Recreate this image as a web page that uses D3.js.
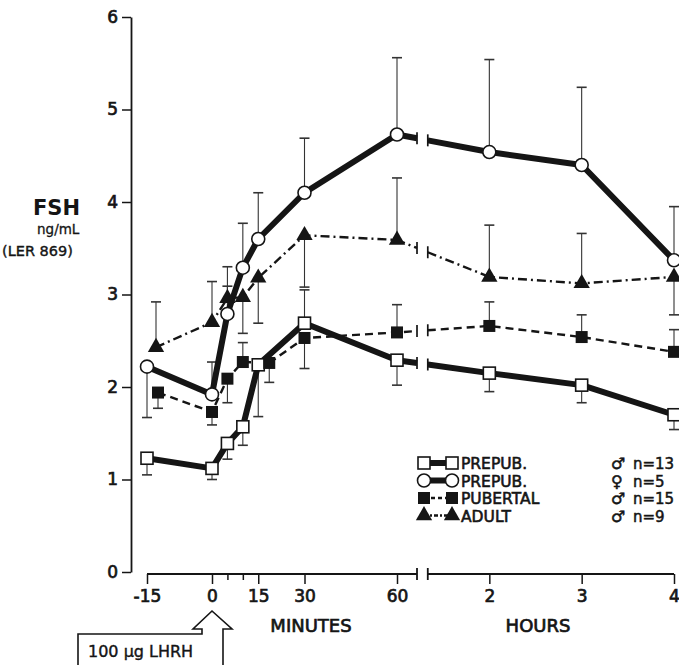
<!DOCTYPE html>
<html><head><meta charset="utf-8">
<script src="https://cdn.jsdelivr.net/npm/d3@7"></script>
<style>body{margin:0;background:#fff}</style>
</head><body><svg id="c" width="679" height="665"></svg>
<script>
// ---- data ----
const minutes = [-15, 0, 5, 10, 15, 30, 60, 120, 180, 240];
const prepubMale      = [1.23, 1.12, 1.39, 1.57, 2.24, 2.69, 2.29, 2.15, 2.02, 1.70];
const prepubMaleErr   = [-0.18, -0.12, -0.17, -0.20, -0.56, 0.36, -0.27, -0.20, -0.19, -0.16];
const prepubFemale    = [2.22, 1.92, 2.79, 3.29, 3.60, 4.10, 4.73, 4.54, 4.40, 3.37];
const prepubFemaleErr = [-0.55, 0.35, 0.30, 0.48, 0.50, 0.59, 0.83, 1.00, 0.84, 0.58];
const pubertal        = [1.94, 1.73, 2.09, 2.27, 2.26, 2.53, 2.59, 2.66, 2.54, 2.38];
const pubertalErr     = [-0.17, -0.14, -0.26, 0.21, -0.21, -0.33, 0.30, 0.26, 0.24, 0.24];
const adult           = [2.43, 2.70, 2.96, 2.97, 3.18, 3.64, 3.59, 3.19, 3.12, 3.19];
const adultErr        = [0.49, 0.44, 0.34, -0.39, -0.49, -0.56, 0.67, 0.56, 0.54, -0.41];

const yTicks = [0, 1, 2, 3, 4, 5, 6];
const xTickValues = [-15, 0, 5, 10, 15, 30, 60, 120, 180, 240];
const xTickLabels = ["-15", "0", "", "", "15", "30", "60", "2", "3", "4"];
const legendLabels = ["PREPUB.", "PREPUB.", "PUBERTAL", "ADULT"];
const legendSex = ["\u2642", "\u2640", "\u2642", "\u2642"];
const legendN = ["n=13", "n=5", "n=15", "n=9"];
const breakDomain = [73, 80];

// ---- scales ----
const x = d3.scaleLinear().domain([-15, 0, 60, 240]).range([147, 212, 397, 674]);
const y = d3.scaleLinear().domain([0, 6]).range([572, 17]);
const ink = "#151515";
const FONT = "DejaVu Sans";

const series = [
  {key: "pm", values: prepubMale, err: prepubMaleErr, marker: "openSquare", width: 6, dash: null},
  {key: "pf", values: prepubFemale, err: prepubFemaleErr, marker: "openCircle", width: 6, dash: null},
  {key: "pu", values: pubertal, err: pubertalErr, marker: "filledSquare", width: 2.4, dash: "8,5"},
  {key: "ad", values: adult, err: adultErr, marker: "triangle", width: 2.4, dash: "9,4,2,4"}
];
// small horizontal offsets used in the original to separate overlapping symbols
const nudge = {ad: {"-15": 9}, pu: {"-15": 11, "15": 11}};
const px = (s, m) => x(m) + ((nudge[s.key] || {})[m] || 0);

const svg = d3.select("#c");
function label(sel, size, weight, heavy) {
  return sel.attr("font-family", FONT).attr("font-size", size).attr("font-weight", weight || "normal")
    .attr("fill", ink).attr("stroke", heavy ? ink : "none").attr("stroke-width", heavy || 0);
}

// ---- y axis ----
const yAxis = svg.append("g").attr("transform", "translate(131,0)")
  .call(d3.axisLeft(y).tickValues(yTicks).tickSize(9).tickSizeOuter(0).tickPadding(4).tickFormat(d3.format("d")));
yAxis.select(".domain").attr("stroke", ink).attr("stroke-width", 1.8);
yAxis.selectAll(".tick line").attr("stroke", ink).attr("stroke-width", 1.5);
label(yAxis.selectAll(".tick text"), 17, "normal", 0.7);

// ---- x axis ----
const xAxis = svg.append("g").attr("transform", "translate(0,574)")
  .call(d3.axisBottom(x).tickValues(xTickValues).tickSize(10).tickSizeOuter(0).tickPadding(6)
    .tickFormat((d, i) => xTickLabels[i]));
xAxis.select(".domain").remove();
xAxis.selectAll(".tick line").attr("stroke", ink).attr("stroke-width", 1.5)
  .attr("y2", (d, i) => xTickLabels[i] === "" ? 6 : 10);
label(xAxis.selectAll(".tick text"), 17, "normal", 0.7);
const axLine = svg.append("g").attr("stroke", ink).attr("stroke-width", 1.8).attr("fill", "none");
axLine.append("line").attr("x1", x(-15)).attr("x2", x(breakDomain[0])).attr("y1", 574).attr("y2", 574);
axLine.append("line").attr("x1", x(breakDomain[1])).attr("x2", x(240)).attr("y1", 574).attr("y2", 574);
breakDomain.forEach(b => axLine.append("line").attr("x1", x(b)).attr("x2", x(b)).attr("y1", 568).attr("y2", 580));

label(svg.append("text"), 18, "normal", 0.7).attr("x", 311).attr("y", 632).attr("text-anchor", "middle").text("MINUTES");
label(svg.append("text"), 18, "normal", 0.7).attr("x", 538).attr("y", 632).attr("text-anchor", "middle").text("HOURS");

// y label
label(svg.append("text"), 21, "bold").attr("x", 33).attr("y", 215).text("FSH");
label(svg.append("text"), 13.5, "normal", 0.3).attr("x", 37).attr("y", 234).text("ng/mL");
label(svg.append("text"), 14.5, "normal", 0.4).attr("x", 2).attr("y", 256).text("(LER 869)");

// ---- error bars ----
const eb = svg.append("g").attr("stroke", "#333").attr("stroke-width", 1.1);
series.forEach(s => {
  s.values.forEach((v, i) => {
    const xx = px(s, minutes[i]);
    const yEnd = y(v + s.err[i]);
    eb.append("line").attr("x1", xx).attr("x2", xx).attr("y1", y(v)).attr("y2", yEnd);
    eb.append("line").attr("x1", xx - 5).attr("x2", xx + 5).attr("y1", yEnd).attr("y2", yEnd).attr("stroke-width", 1.6);
  });
});

// ---- lines with axis break ----
const line = d3.line().x(d => d[0]).y(d => d[1]);
const lg = svg.append("g").attr("fill", "none").attr("stroke", ink).attr("stroke-linejoin", "round");
series.forEach(s => {
  const i60 = minutes.indexOf(60), i120 = minutes.indexOf(120);
  const interp = m => s.values[i60] + (s.values[i120] - s.values[i60]) * (m - 60) / 60;
  const seg1 = minutes.map((m, i) => [m, i]).filter(d => d[0] <= 60).map(d => [px(s, d[0]), y(s.values[d[1]])]);
  seg1.push([x(breakDomain[0]), y(interp(breakDomain[0]))]);
  const seg2 = [[x(breakDomain[1]), y(interp(breakDomain[1]))]]
    .concat(minutes.map((m, i) => [m, i]).filter(d => d[0] >= 120).map(d => [px(s, d[0]), y(s.values[d[1]])]));
  [seg1, seg2].forEach(seg => {
    const p = lg.append("path").attr("d", line(seg)).attr("stroke-width", s.width);
    if (s.dash) p.attr("stroke-dasharray", s.dash);
  });
  breakDomain.forEach(b => {
    const yy = y(interp(b));
    lg.append("line").attr("x1", x(b)).attr("x2", x(b)).attr("y1", yy - 6).attr("y2", yy + 6).attr("stroke-width", 1.7);
  });
});

// ---- markers ----
function drawMarker(g, type, cx, cy) {
  if (type === "openSquare") g.append("rect").attr("x", cx - 6).attr("y", cy - 6).attr("width", 12).attr("height", 12)
    .attr("fill", "#fff").attr("stroke", ink).attr("stroke-width", 1.6);
  else if (type === "filledSquare") g.append("rect").attr("x", cx - 6).attr("y", cy - 6).attr("width", 12).attr("height", 12)
    .attr("fill", ink);
  else if (type === "openCircle") g.append("circle").attr("cx", cx).attr("cy", cy).attr("r", 6.5)
    .attr("fill", "#fff").attr("stroke", ink).attr("stroke-width", 1.6);
  else if (type === "triangle") g.append("path").attr("d", d3.symbol(d3.symbolTriangle, 115)())
    .attr("transform", `translate(${cx},${cy})`).attr("fill", ink);
}
const mg = svg.append("g");
series.forEach(s => s.values.forEach((v, i) => drawMarker(mg, s.marker, px(s, minutes[i]), y(v))));

// ---- legend ----
const legTop = 463, legStep = 17.5, lx1 = 424, lx2 = 452;
series.forEach((s, i) => {
  const yy = legTop + i * legStep;
  const p = lg.append("line").attr("x1", lx1).attr("x2", lx2).attr("y1", yy).attr("y2", yy)
    .attr("stroke-width", s.width);
  if (s.dash) p.attr("stroke-dasharray", s.dash === "8,5" ? "4,3" : "4,2,2,2");
  drawMarker(mg, s.marker, lx1, yy);
  drawMarker(mg, s.marker, lx2, yy);
  label(svg.append("text"), 15.5, "normal", 0.6).attr("x", 461).attr("y", yy + 6).text(legendLabels[i]);
  label(svg.append("text"), 16, "normal", 0.5).attr("x", 611).attr("y", yy + 6).text(legendSex[i]);
  label(svg.append("text"), 15, "normal", 0.5).attr("x", 633).attr("y", yy + 6).text(legendN[i]);
});

// ---- LHRH box with arrow ----
svg.append("path")
  .attr("d", `M78,668 L78,634 L202,634 L202,629 L193,629 L${x(0)},611 L232,629 L223,629 L223,668`)
  .attr("fill", "none").attr("stroke", ink).attr("stroke-width", 1.6);
label(svg.append("text"), 16, "normal", 0.4).attr("x", 88).attr("y", 657).text("100 \u03bcg LHRH");
</script></body></html>
